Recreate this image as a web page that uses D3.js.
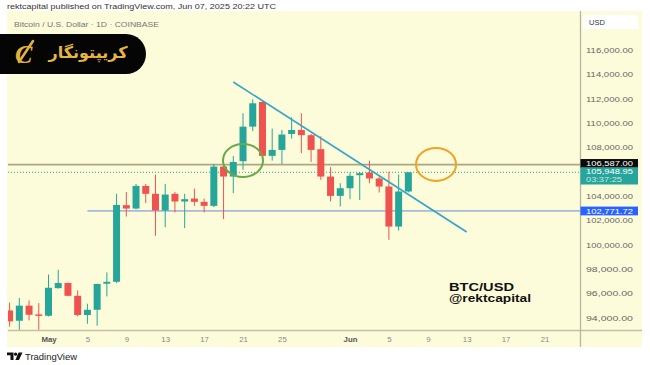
<!DOCTYPE html>
<html><head><meta charset="utf-8">
<script src="https://cdn.jsdelivr.net/npm/d3@7"></script>
<style>body{margin:0;background:#fff}svg{display:block}</style>
</head><body><svg id="c" width="650" height="365"></svg>
<script>
const dates = ["2025-04-27","2025-04-28","2025-04-29","2025-04-30","2025-05-01","2025-05-02","2025-05-03","2025-05-04","2025-05-05","2025-05-06","2025-05-07","2025-05-08","2025-05-09","2025-05-10","2025-05-11","2025-05-12","2025-05-13","2025-05-14","2025-05-15","2025-05-16","2025-05-17","2025-05-18","2025-05-19","2025-05-20","2025-05-21","2025-05-22","2025-05-23","2025-05-24","2025-05-25","2025-05-26","2025-05-27","2025-05-28","2025-05-29","2025-05-30","2025-05-31","2025-06-01","2025-06-02","2025-06-03","2025-06-04","2025-06-05","2025-06-06","2025-06-07"];
const opens = [94600,93750,94990,94270,94160,96430,96850,95800,94220,94650,96790,96950,103250,102970,104830,104180,102810,104180,103550,103790,103520,103190,106420,105600,106860,109700,111730,107300,107790,109100,109430,109000,107850,105600,104010,104640,105710,105930,105440,104780,101490,104370];
const highs = [95250,95620,95420,95200,97550,97940,96900,96240,95150,96800,97720,104180,104340,104990,104990,105760,105000,104340,104180,104610,103790,106640,106530,107300,110800,111950,111800,109540,109430,110470,110800,109100,108900,106370,105050,105930,105930,106910,105600,106010,105770,105950];
const lows = [93280,92900,93780,92900,94100,96380,95750,94110,93500,93340,95750,96850,102310,102900,103420,100730,101440,102650,101360,103190,102650,103100,102100,104240,106150,109330,107200,106910,106640,108720,107520,106800,105330,103560,103140,103740,103680,105050,104290,100400,101160,104300];
const closes = [93700,94990,94240,94150,96460,96850,95800,94220,94650,96770,96950,103270,102970,104830,104180,102810,104120,103550,103740,103520,103190,106420,105600,106800,109700,111620,107300,107790,109050,109430,109000,107790,105600,104010,104640,105660,105880,105440,104780,101490,104370,105948.95];

const priceTicks = [94000,96000,98000,100000,102000,104000,108000,110000,112000,114000,116000];
const dateTicks = ["2025-05-01","2025-05-05","2025-05-09","2025-05-13","2025-05-17","2025-05-21","2025-05-25","2025-06-01","2025-06-05","2025-06-09","2025-06-13","2025-06-17","2025-06-21","2025-06-25"];
const dateLabels = ["May","5","9","13","17","21","25","Jun","5","9","13","17","21","25"];

const resistance = 106587;
const support = 102771.72;
const supportStart = "2025-05-05";
const lastPrice = 105948.95;
const countdown = "03:37:25";
const trendDates = ["2025-05-20","2025-06-13"];
const trendPrices = [113370,101040];
const greenCircle = ["2025-05-21", 106919];
const orangeCircle = ["2025-06-10", 106600];

const parse = d3.utcParse("%Y-%m-%d");
const svg = d3.select("#c");
const font = "'Liberation Sans', Arial, sans-serif";

const x = d3.scaleUtc().domain([parse("2025-05-01"), parse("2025-06-01")]).range([48.5, 350]);
const y = d3.scaleLinear().domain([94000,116000]).range([317.7, 50]);
const L = 8, R = 580, T = 11, B = 330;

// backgrounds
svg.append("rect").attr("x",0).attr("y",0).attr("width",650).attr("height",365).attr("fill","#fff");
svg.append("rect").attr("x",7).attr("y",T).attr("width",635).attr("height",336).attr("fill","#fdfcda");

// header
svg.append("text").attr("x",7).attr("y",8.5).attr("font-family",font).attr("font-size",7.4)
  .attr("fill","#333").attr("textLength",269).attr("lengthAdjust","spacingAndGlyphs")
  .text("rektcapital published on TradingView.com, Jun 07, 2025 20:22 UTC");
svg.append("text").attr("x",14).attr("y",26.5).attr("font-family",font).attr("font-size",6.8)
  .attr("fill","#777").attr("textLength",145).attr("lengthAdjust","spacingAndGlyphs")
  .text("Bitcoin / U.S. Dollar · 1D · COINBASE");

// clip
const defs = svg.append("defs");
defs.append("clipPath").attr("id","plot").append("rect").attr("x",L).attr("y",T).attr("width",R-L).attr("height",B-T);
defs.append("clipPath").attr("id","xax").append("rect").attr("x",L).attr("y",B).attr("width",R-L).attr("height",20);

const plot = svg.append("g").attr("clip-path","url(#plot)");

// level lines
plot.append("line").attr("x1",L).attr("x2",R).attr("y1",y(resistance)).attr("y2",y(resistance))
  .attr("stroke","#aaa784").attr("stroke-width",1.8);
plot.append("line").attr("x1",L).attr("x2",R).attr("y1",y(lastPrice)).attr("y2",y(lastPrice))
  .attr("stroke","#26a69a").attr("stroke-width",1).attr("stroke-dasharray","1,2");
plot.append("line").attr("x1",x(parse(supportStart))).attr("x2",R).attr("y1",y(support)).attr("y2",y(support))
  .attr("stroke","#a9b9dc").attr("stroke-width",1.8);

// candles
const data = dates.map((d,i)=>({date:parse(d),o:opens[i],h:highs[i],l:lows[i],c:closes[i]}));
const up = "#26a69a", dn = "#ef5350";
const cg = plot.append("g");
const bw = 7;
cg.selectAll("line.w").data(data).join("line")
  .attr("x1",d=>x(d.date)).attr("x2",d=>x(d.date))
  .attr("y1",d=>y(d.h)).attr("y2",d=>y(d.l))
  .attr("stroke",d=>d.c>=d.o?up:dn).attr("stroke-width",1);
cg.selectAll("rect.b").data(data).join("rect")
  .attr("x",d=>x(d.date)-bw/2).attr("width",bw)
  .attr("y",d=>y(Math.max(d.o,d.c)))
  .attr("height",d=>Math.max(1.2,Math.abs(y(d.o)-y(d.c))))
  .attr("fill",d=>d.c>=d.o?up:dn);

// trend line
plot.append("line")
  .attr("x1",x(parse(trendDates[0]))).attr("y1",y(trendPrices[0]))
  .attr("x2",x(parse(trendDates[1]))).attr("y2",y(trendPrices[1]))
  .attr("stroke","#33a6c8").attr("stroke-width",1.6);

// ellipses
plot.append("ellipse").attr("cx",x(parse(greenCircle[0]))).attr("cy",y(greenCircle[1]))
  .attr("rx",20).attr("ry",16.5).attr("fill","none").attr("stroke","#6aaa4a").attr("stroke-width",2);
plot.append("ellipse").attr("cx",x(parse(orangeCircle[0]))-1.5).attr("cy",y(orangeCircle[1]))
  .attr("rx",20).attr("ry",16.5).attr("fill","none").attr("stroke","#f0a324").attr("stroke-width",2);

// annotation text
svg.append("text").attr("x",449).attr("y",291).attr("font-family",font).attr("font-weight","bold")
  .attr("font-size",11).attr("fill","#111").attr("textLength",65).attr("lengthAdjust","spacingAndGlyphs").text("BTC/USD");
svg.append("text").attr("x",449).attr("y",302).attr("font-family",font).attr("font-weight","bold")
  .attr("font-size",11).attr("fill","#111").attr("textLength",82).attr("lengthAdjust","spacingAndGlyphs").text("@rektcapital");

// axes lines
svg.append("line").attr("x1",L).attr("x2",642).attr("y1",B+0.5).attr("y2",B+0.5).attr("stroke","#c2bfa6").attr("stroke-width",1.5);
svg.append("line").attr("x1",R+0.5).attr("x2",R+0.5).attr("y1",T).attr("y2",347).attr("stroke","#b8b5a0").attr("stroke-width",1.3);

// x axis
const xwrap = svg.append("g").attr("clip-path","url(#xax)");
const xa = xwrap.append("g").attr("transform",`translate(0,${B})`)
  .call(d3.axisBottom(x).tickValues(dateTicks.map(parse)).tickSize(0).tickPadding(6)
    .tickFormat((d,i)=>dateLabels[i]));
xa.select(".domain").remove();
xa.selectAll("text").attr("font-family",font).attr("font-size",7.8)
  .attr("fill",(d,i)=>(dateLabels[i]==="May"||dateLabels[i]==="Jun")?"#555":"#888")
  .attr("font-weight",(d,i)=>(dateLabels[i]==="May"||dateLabels[i]==="Jun")?"bold":"normal");

// y axis
const ya = svg.append("g").attr("transform",`translate(${R},0)`)
  .call(d3.axisRight(y).tickValues(priceTicks).tickSize(0).tickPadding(6).tickFormat(d3.format(",.2f")));
ya.select(".domain").remove();
ya.selectAll("text").attr("font-family",font).attr("font-size",7.6).attr("fill","#666")
  .attr("textLength",47).attr("lengthAdjust","spacingAndGlyphs");

// USD box
svg.append("rect").attr("x",583).attr("y",15).attr("width",55).attr("height",14).attr("fill","#fff").attr("rx",1);
svg.append("text").attr("x",589).attr("y",25).attr("font-family",font).attr("font-size",7.5).attr("fill","#333").text("USD");

// price labels
const fmt = d3.format(",.2f");
function priceBox(y0,h,bg){
  svg.append("rect").attr("x",R+0.5).attr("y",y0).attr("width",57.5).attr("height",h).attr("fill",bg);
}
function priceText(txt,yc,op,len){
  svg.append("text").attr("x",586).attr("y",yc).attr("dy","0.35em").attr("font-family",font)
    .attr("font-size",7.6).attr("fill","#fff").attr("fill-opacity",op)
    .attr("textLength",len).attr("lengthAdjust","spacingAndGlyphs").text(txt);
}
const yr = y(resistance), yl = y(lastPrice), ys = y(support);
priceBox(yr-5.5,8.8,"#0a0a0a"); priceText(fmt(resistance),yr-1.1,1,47);
priceBox(yl-5,17.2,"#26a69a"); priceText(fmt(lastPrice),yl-0.8,1,47); priceText(countdown,yl+7,0.75,36);
priceBox(ys-4.4,8.8,"#2962ff"); priceText(fmt(support),ys,1,47);

// logo pill
svg.append("rect").attr("x",-25).attr("y",34).attr("width",171).attr("height",40).attr("rx",20).attr("fill","#050505");
svg.append("text").attr("x",15).attr("y",63).attr("font-family","'Liberation Serif', serif").attr("font-style","italic")
  .attr("font-weight","bold").attr("font-size",26).attr("fill","#e3b23c").text("C");
svg.append("line").attr("x1",33).attr("y1",41).attr("x2",19).attr("y2",62).attr("stroke","#e3b23c").attr("stroke-width",2.5).attr("stroke-linecap","round");
svg.append("text").attr("x",88).attr("y",58).attr("text-anchor","middle").attr("font-family","'DejaVu Sans', sans-serif")
  .attr("font-weight","bold").attr("font-size",16).attr("fill","#e6b542").attr("direction","rtl").text("کریپتونگار");

// TradingView footer
const tv = svg.append("g").attr("fill","#111");
tv.append("path").attr("d","M7,352.5 h6.5 v7.5 h-3 v-4.7 h-3.5 z");
tv.append("circle").attr("cx",15.6).attr("cy",354.2).attr("r",1.6);
tv.append("path").attr("d","M18.5,352.5 h4 l-3.5,7.5 h-3.6 z");
svg.append("text").attr("x",25).attr("y",360).attr("font-family",font).attr("font-size",8.2).attr("fill","#222")
  .attr("textLength",52).attr("lengthAdjust","spacingAndGlyphs").text("TradingView");
</script></body></html>
